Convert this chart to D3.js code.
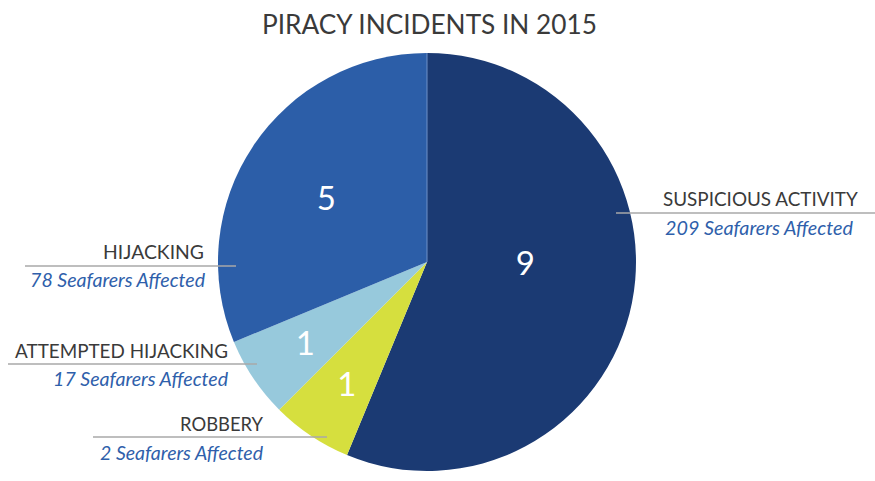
<html>
<head>
<style>
body { margin: 0; background: #fff; }
text { font-family: Lato, "Noto Sans", sans-serif; }
.cat { fill: #3a3a3a; }
.sub { fill: #2f5fab; font-style: italic; }
.num { fill: #fff; text-anchor: middle; font-weight: 400; }
</style>
</head>
<body>
<svg height="481" width="875" id="container"></svg>
<script src="https://cdn.jsdelivr.net/npm/d3@7/dist/d3.min.js" charset="UTF-8"></script>
<script>
// data
var categories = ["SUSPICIOUS ACTIVITY", "ROBBERY", "ATTEMPTED HIJACKING", "HIJACKING"];
var incidents = [9, 1, 1, 5];
var seafarers = [209, 2, 17, 78];
var colors = ["#1b3a73", "#d6df3e", "#97c9dc", "#2c5ea8"];
var title = "PIRACY INCIDENTS IN 2015";

var svg = d3.select("#container"),
    width = +svg.attr("width"),
    height = +svg.attr("height"),
    radius = 209,
    cx = 427, cy = 262;

// fit a text to a target width
function fit(sel, w, base) {
  sel.style("font-size", base + "px");
  var l = sel.node().getComputedTextLength();
  sel.style("font-size", (base * w / l) + "px");
  return sel;
}

fit(svg.append("text").attr("class", "cat")
  .attr("x", 262).attr("y", 34)
  .text(title), 335, 28);

var g = svg.append("g").attr("transform", "translate(" + cx + "," + cy + ")");

var pie = d3.pie().sort(null).value(function(d) { return d; });
var arc = d3.arc().innerRadius(0).outerRadius(radius);
var arcs = pie(incidents);

g.selectAll("path.slice")
  .data(arcs)
  .enter().append("path")
  .attr("class", "slice")
  .attr("d", arc)
  .attr("fill", function(d, i) { return colors[i]; });

// thin edge at top of the pie
var a0 = arcs[0].startAngle;
g.append("line")
  .attr("x1", 0).attr("y1", 0)
  .attr("x2", radius * Math.sin(a0)).attr("y2", -radius * Math.cos(a0))
  .attr("stroke", "#6f90c8").attr("stroke-width", 1);

// value labels: angle shift (deg) and radius share for each slice
var labelShift = [-10.5, -0.5, 0, -1.5];
var labelRad = [0.47, 0.7, 0.7, 0.57];
g.selectAll("text.num")
  .data(arcs)
  .enter().append("text")
  .attr("class", "num")
  .style("font-size", "33px")
  .attr("transform", function(d, i) {
    var a = (d.startAngle + d.endAngle) / 2 + labelShift[i] * Math.PI / 180,
        r = radius * labelRad[i];
    return "translate(" + (r * Math.sin(a)) + "," + (-r * Math.cos(a)) + ")";
  })
  .attr("dy", "0.36em")
  .text(function(d) { return d.data; });

// callouts: leader line and two text rows
var callouts = [
  {x1: 616, x2: 875, y: 213, anchor: "start", tx: 663, sx: 665, ty: 206, sy: 235, tw: 195, sw: 188},
  {x1: 93, x2: 327, y: 437, anchor: "end", tx: 263, sx: 263, ty: 431, sy: 460, tw: 83, sw: 163},
  {x1: 8, x2: 257, y: 364, anchor: "end", tx: 228, sx: 228, ty: 358, sy: 386, tw: 213, sw: 175},
  {x1: 25, x2: 236, y: 266, anchor: "end", tx: 204, sx: 205, ty: 259, sy: 287, tw: 101, sw: 175}
];

callouts.forEach(function(c, i) {
  svg.append("line")
    .attr("x1", c.x1).attr("x2", c.x2)
    .attr("y1", c.y).attr("y2", c.y)
    .attr("stroke", "#a8a8a8").attr("stroke-width", 1.5);
  fit(svg.append("text").attr("class", "cat")
    .attr("x", c.tx).attr("y", c.ty)
    .attr("text-anchor", c.anchor)
    .text(categories[i]), c.tw, 20);
  fit(svg.append("text").attr("class", "sub")
    .attr("x", c.sx).attr("y", c.sy)
    .attr("text-anchor", c.anchor)
    .text(seafarers[i] + " Seafarers Affected"), c.sw, 20);
});
</script>
</body>
</html>
